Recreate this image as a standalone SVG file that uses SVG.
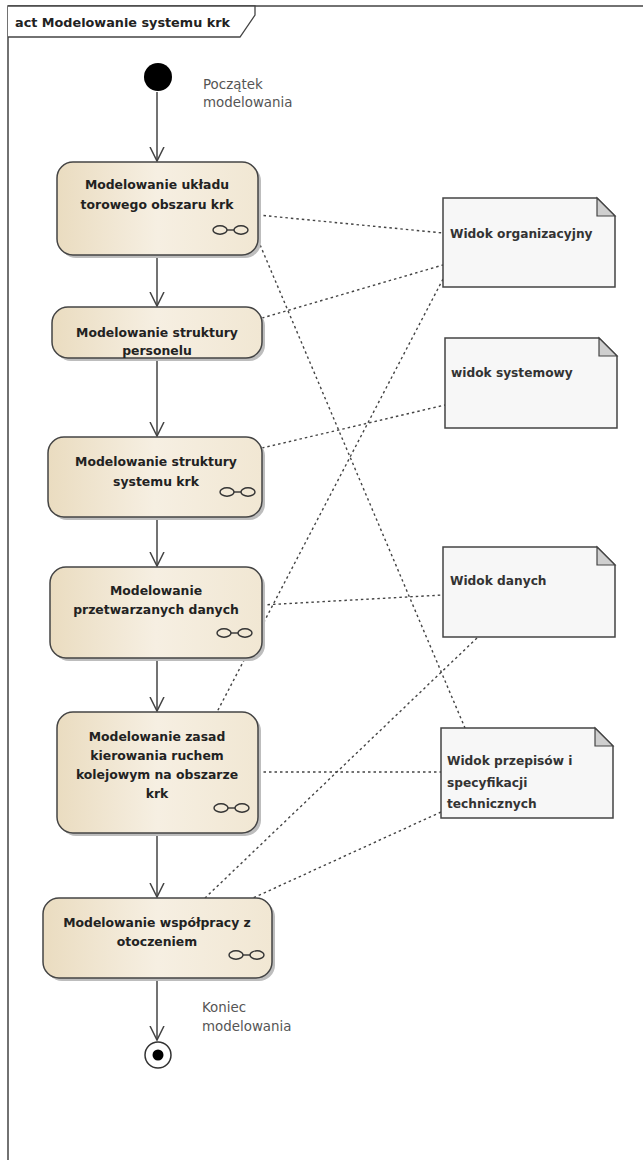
<svg xmlns="http://www.w3.org/2000/svg" width="643" height="1160" viewBox="0 0 643 1160">
<defs>
<linearGradient id="g" x1="0" y1="0" x2="1" y2="0">
<stop offset="0" stop-color="#eadcc0"/>
<stop offset="0.5" stop-color="#f6efe2"/>
<stop offset="1" stop-color="#f1e7d3"/>
</linearGradient>
<marker id="arr" markerWidth="16" markerHeight="16" refX="14" refY="8" orient="auto" markerUnits="userSpaceOnUse">
<path d="M0,1 L14,8 L0,15" fill="none" stroke="#444" stroke-width="1.5"/>
</marker>
</defs>
<style>
.box{fill:url(#g);stroke:#444;stroke-width:1.5}
.sh{fill:#bdbdbd}
.lbl{font-family:"DejaVu Sans",sans-serif;font-weight:bold;font-size:12.4px;fill:#222;text-anchor:middle}
.note{fill:#f7f7f7;stroke:#444;stroke-width:1.5}
.fold{fill:#cfcfcf;stroke:#444;stroke-width:1.2}
.nt{font-family:"DejaVu Sans",sans-serif;font-weight:bold;font-size:12.2px;fill:#333}
.plain{font-family:"DejaVu Sans",sans-serif;font-size:13.4px;fill:#555}
.flow{stroke:#444;stroke-width:1.5;fill:none;marker-end:url(#arr)}
.dash{stroke:#444;stroke-width:1.4;fill:none;stroke-dasharray:2.5,3}
.rake{fill:none;stroke:#333;stroke-width:1.4}
</style>
<rect width="643" height="1160" fill="#fff"/>
<g id="frame">
<path d="M8,1160 L8,6 L643,6" fill="none" stroke="#444" stroke-width="1.5"/>
<path d="M8,6 L255,6 L255,15 L240,37 L8,37" fill="#fff" stroke="#444" stroke-width="1.3"/>
<text x="15" y="27" font-family="DejaVu Sans,sans-serif" font-weight="bold" font-size="12.8px" fill="#222">act Modelowanie systemu krk</text>
</g>
<g id="connectors">
<line class="flow" x1="157" y1="92" x2="157" y2="161"/>
<line class="flow" x1="157" y1="256" x2="157" y2="306"/>
<line class="flow" x1="157" y1="359" x2="157" y2="436"/>
<line class="flow" x1="157" y1="518" x2="157" y2="566"/>
<line class="flow" x1="157" y1="659" x2="157" y2="711"/>
<line class="flow" x1="157" y1="834" x2="157" y2="897"/>
<line class="flow" x1="157" y1="979" x2="157" y2="1040"/>
<line class="dash" x1="258" y1="215" x2="443" y2="233"/>
<line class="dash" x1="258" y1="240" x2="465" y2="728"/>
<line class="dash" x1="262" y1="318" x2="443" y2="265"/>
<line class="dash" x1="443" y1="279" x2="217" y2="712"/>
<line class="dash" x1="262" y1="448" x2="445" y2="405"/>
<line class="dash" x1="262" y1="605" x2="443" y2="595"/>
<line class="dash" x1="477" y1="638" x2="205" y2="898"/>
<line class="dash" x1="441" y1="812" x2="253" y2="898"/>
<line class="dash" x1="258" y1="772" x2="441" y2="772"/>
</g>
<g id="start">
<circle cx="158" cy="77" r="14" fill="#000"/>
<text class="plain" x="203" y="89">Początek</text>
<text class="plain" x="203" y="107">modelowania</text>
</g>
<g id="a1">
<rect class="sh" x="60" y="165" width="201" height="93" rx="16"/>
<rect class="box" x="57" y="162" width="201" height="93" rx="16"/>
<text class="lbl" x="157" y="189">Modelowanie układu</text>
<text class="lbl" x="157" y="209">torowego obszaru krk</text>
<g class="rake"><ellipse cx="220" cy="230" rx="7" ry="4.2"/><ellipse cx="241" cy="230" rx="7" ry="4.2"/><line x1="227" y1="230" x2="234" y2="230"/></g>
</g>
<g id="a2">
<rect class="sh" x="55" y="310" width="210" height="51" rx="16"/>
<rect class="box" x="52" y="307" width="210" height="51" rx="16"/>
<text class="lbl" x="157" y="337">Modelowanie struktury</text>
<text class="lbl" x="157" y="355">personelu</text>
</g>
<g id="a3">
<rect class="sh" x="51" y="440" width="214" height="80" rx="16"/>
<rect class="box" x="48" y="437" width="214" height="80" rx="16"/>
<text class="lbl" x="156" y="466">Modelowanie struktury</text>
<text class="lbl" x="156" y="486">systemu krk</text>
<g class="rake"><ellipse cx="227" cy="492" rx="7" ry="4.2"/><ellipse cx="248" cy="492" rx="7" ry="4.2"/><line x1="234" y1="492" x2="241" y2="492"/></g>
</g>
<g id="a4">
<rect class="sh" x="53" y="570" width="212" height="91" rx="16"/>
<rect class="box" x="50" y="567" width="212" height="91" rx="16"/>
<text class="lbl" x="156" y="595">Modelowanie</text>
<text class="lbl" x="156" y="614">przetwarzanych danych</text>
<g class="rake"><ellipse cx="224" cy="633" rx="7" ry="4.2"/><ellipse cx="245" cy="633" rx="7" ry="4.2"/><line x1="231" y1="633" x2="238" y2="633"/></g>
</g>
<g id="a5">
<rect class="sh" x="60" y="715" width="201" height="121" rx="16"/>
<rect class="box" x="57" y="712" width="201" height="121" rx="16"/>
<text class="lbl" x="157" y="741">Modelowanie zasad</text>
<text class="lbl" x="157" y="760">kierowania ruchem</text>
<text class="lbl" x="157" y="779">kolejowym na obszarze</text>
<text class="lbl" x="157" y="798">krk</text>
<g class="rake"><ellipse cx="221" cy="808" rx="7" ry="4.2"/><ellipse cx="242" cy="808" rx="7" ry="4.2"/><line x1="228" y1="808" x2="235" y2="808"/></g>
</g>
<g id="a6">
<rect class="sh" x="46" y="901" width="229" height="80" rx="16"/>
<rect class="box" x="43" y="898" width="229" height="80" rx="16"/>
<text class="lbl" x="157" y="927">Modelowanie współpracy z</text>
<text class="lbl" x="157" y="946">otoczeniem</text>
<g class="rake"><ellipse cx="236" cy="955" rx="7" ry="4.2"/><ellipse cx="257" cy="955" rx="7" ry="4.2"/><line x1="243" y1="955" x2="250" y2="955"/></g>
</g>
<g id="end">
<circle cx="158" cy="1055" r="13" fill="#fff" stroke="#333" stroke-width="1.5"/>
<circle cx="158" cy="1055" r="5.5" fill="#000"/>
<text class="plain" x="202" y="1012">Koniec</text>
<text class="plain" x="202" y="1031">modelowania</text>
</g>
<g id="n1">
<path class="note" d="M443,198 L597,198 L615,216 L615,287 L443,287 Z"/>
<path class="fold" d="M597,198 L597,216 L615,216 Z"/>
<text class="nt" x="450" y="238">Widok organizacyjny</text>
</g>
<g id="n2">
<path class="note" d="M445,338 L599,338 L617,356 L617,428 L445,428 Z"/>
<path class="fold" d="M599,338 L599,356 L617,356 Z"/>
<text class="nt" x="451" y="377">widok systemowy</text>
</g>
<g id="n3">
<path class="note" d="M443,547 L597,547 L615,565 L615,637 L443,637 Z"/>
<path class="fold" d="M597,547 L597,565 L615,565 Z"/>
<text class="nt" x="450" y="585">Widok danych</text>
</g>
<g id="n4">
<path class="note" d="M441,728 L595,728 L613,746 L613,818 L441,818 Z"/>
<path class="fold" d="M595,728 L595,746 L613,746 Z"/>
<text class="nt" x="447" y="765">Widok przepisów i</text>
<text class="nt" x="447" y="787">specyfikacji</text>
<text class="nt" x="447" y="808">technicznych</text>
</g>
</svg>
